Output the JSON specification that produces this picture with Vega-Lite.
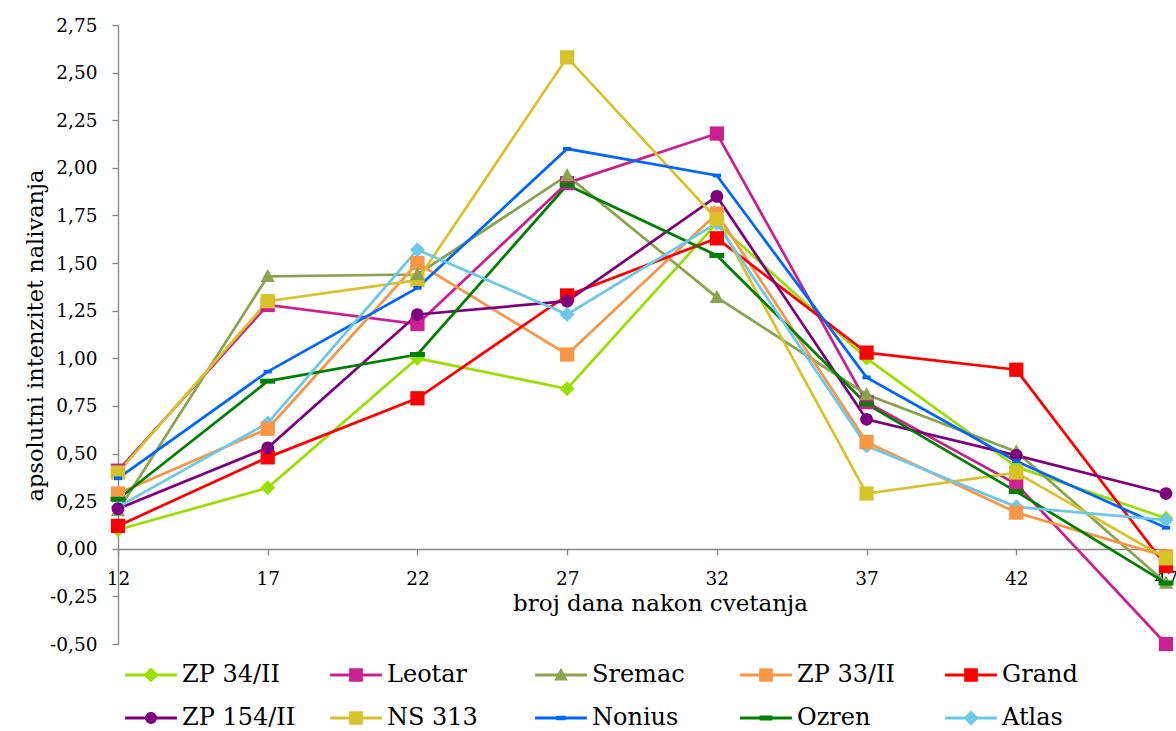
{
  "$schema": "https://vega.github.io/schema/vega-lite/v6.json",
  "autosize": "none",
  "width": 1048,
  "height": 619,
  "padding": {"left": 118, "top": 25, "right": 10, "bottom": 87},
  "background": "white",
  "config": {
    "view": {"stroke": null},
    "font": "DejaVu Serif",
    "axis": {"grid": false, "domainColor": "#868686", "tickColor": "#868686", "domainWidth": 1.3, "tickWidth": 1.3, "labelColor": "#000000", "titleColor": "#000000", "labelFont": "DejaVu Serif", "titleFont": "DejaVu Serif", "titleFontWeight": "normal"}
  },
  "data": {"values": [
    {"series": "ZP 34/II", "day": 12, "value": 0.10}, {"series": "ZP 34/II", "day": 17, "value": 0.32}, {"series": "ZP 34/II", "day": 22, "value": 1.00}, {"series": "ZP 34/II", "day": 27, "value": 0.84}, {"series": "ZP 34/II", "day": 32, "value": 1.71}, {"series": "ZP 34/II", "day": 37, "value": 1.00}, {"series": "ZP 34/II", "day": 42, "value": 0.43}, {"series": "ZP 34/II", "day": 47, "value": 0.16},
    {"series": "Leotar", "day": 12, "value": 0.41}, {"series": "Leotar", "day": 17, "value": 1.28}, {"series": "Leotar", "day": 22, "value": 1.18}, {"series": "Leotar", "day": 27, "value": 1.92}, {"series": "Leotar", "day": 32, "value": 2.18}, {"series": "Leotar", "day": 37, "value": 0.77}, {"series": "Leotar", "day": 42, "value": 0.34}, {"series": "Leotar", "day": 47, "value": -0.50},
    {"series": "Sremac", "day": 12, "value": 0.20}, {"series": "Sremac", "day": 17, "value": 1.43}, {"series": "Sremac", "day": 22, "value": 1.44}, {"series": "Sremac", "day": 27, "value": 1.96}, {"series": "Sremac", "day": 32, "value": 1.32}, {"series": "Sremac", "day": 37, "value": 0.81}, {"series": "Sremac", "day": 42, "value": 0.51}, {"series": "Sremac", "day": 47, "value": -0.18},
    {"series": "ZP 33/II", "day": 12, "value": 0.29}, {"series": "ZP 33/II", "day": 17, "value": 0.63}, {"series": "ZP 33/II", "day": 22, "value": 1.50}, {"series": "ZP 33/II", "day": 27, "value": 1.02}, {"series": "ZP 33/II", "day": 32, "value": 1.76}, {"series": "ZP 33/II", "day": 37, "value": 0.56}, {"series": "ZP 33/II", "day": 42, "value": 0.19}, {"series": "ZP 33/II", "day": 47, "value": -0.04},
    {"series": "Grand", "day": 12, "value": 0.12}, {"series": "Grand", "day": 17, "value": 0.48}, {"series": "Grand", "day": 22, "value": 0.79}, {"series": "Grand", "day": 27, "value": 1.33}, {"series": "Grand", "day": 32, "value": 1.63}, {"series": "Grand", "day": 37, "value": 1.03}, {"series": "Grand", "day": 42, "value": 0.94}, {"series": "Grand", "day": 47, "value": -0.09},
    {"series": "ZP 154/II", "day": 12, "value": 0.21}, {"series": "ZP 154/II", "day": 17, "value": 0.53}, {"series": "ZP 154/II", "day": 22, "value": 1.23}, {"series": "ZP 154/II", "day": 27, "value": 1.30}, {"series": "ZP 154/II", "day": 32, "value": 1.85}, {"series": "ZP 154/II", "day": 37, "value": 0.68}, {"series": "ZP 154/II", "day": 42, "value": 0.49}, {"series": "ZP 154/II", "day": 47, "value": 0.29},
    {"series": "NS 313", "day": 12, "value": 0.40}, {"series": "NS 313", "day": 17, "value": 1.30}, {"series": "NS 313", "day": 22, "value": 1.41}, {"series": "NS 313", "day": 27, "value": 2.58}, {"series": "NS 313", "day": 32, "value": 1.73}, {"series": "NS 313", "day": 37, "value": 0.29}, {"series": "NS 313", "day": 42, "value": 0.40}, {"series": "NS 313", "day": 47, "value": -0.05},
    {"series": "Nonius", "day": 12, "value": 0.37}, {"series": "Nonius", "day": 17, "value": 0.93}, {"series": "Nonius", "day": 22, "value": 1.37}, {"series": "Nonius", "day": 27, "value": 2.10}, {"series": "Nonius", "day": 32, "value": 1.96}, {"series": "Nonius", "day": 37, "value": 0.90}, {"series": "Nonius", "day": 42, "value": 0.46}, {"series": "Nonius", "day": 47, "value": 0.11},
    {"series": "Ozren", "day": 12, "value": 0.26}, {"series": "Ozren", "day": 17, "value": 0.88}, {"series": "Ozren", "day": 22, "value": 1.02}, {"series": "Ozren", "day": 27, "value": 1.91}, {"series": "Ozren", "day": 32, "value": 1.54}, {"series": "Ozren", "day": 37, "value": 0.76}, {"series": "Ozren", "day": 42, "value": 0.30}, {"series": "Ozren", "day": 47, "value": -0.18},
    {"series": "Atlas", "day": 12, "value": 0.22}, {"series": "Atlas", "day": 17, "value": 0.66}, {"series": "Atlas", "day": 22, "value": 1.57}, {"series": "Atlas", "day": 27, "value": 1.23}, {"series": "Atlas", "day": 32, "value": 1.71}, {"series": "Atlas", "day": 37, "value": 0.54}, {"series": "Atlas", "day": 42, "value": 0.22}, {"series": "Atlas", "day": 47, "value": 0.15}
  ]},
  "encoding": {
    "x": {"field": "day", "type": "quantitative",
      "scale": {"domain": [12, 47], "nice": false, "zero": false},
      "axis": {"values": [12, 17, 22, 27, 32, 37, 42, 47], "format": "d", "offset": -95, "tickSize": 6, "labelPadding": 14, "labelDx": -14, "labelFontSize": 18.5, "labelFlush": false, "labelOverlap": false,
        "title": "broj dana nakon cvetanja", "titleFontSize": 23, "titleX": 542, "titleY": 61, "titleBaseline": "alphabetic", "titleAlign": "center", "titleAnchor": null}},
    "y": {"field": "value", "type": "quantitative",
      "scale": {"domain": [-0.5, 2.75], "nice": false, "zero": false},
      "axis": {"values": [-0.5, -0.25, 0, 0.25, 0.5, 0.75, 1, 1.25, 1.5, 1.75, 2, 2.25, 2.5, 2.75], "labelExpr": "replace(replace(format(datum.value, '.2f'), '.', ','), '\u2212', '-')", "tickSize": 6, "labelPadding": 15, "labelFontSize": 18.5, "labelFlush": false, "labelOverlap": false,
        "title": "apsolutni intenzitet nalivanja", "titleFontSize": 22.5, "titleAngle": 270, "titleX": -76, "titleY": 310, "titleBaseline": "alphabetic", "titleAlign": "center"}}
  },
  "layer": [
    {"transform": [{"filter": {"field": "day", "equal": 0}}],
     "mark": {"type": "point", "filled": true, "opacity": 1, "size": 1296, "clip": false},
     "encoding": {
       "color": {"field": "series", "type": "nominal",
         "scale": {"domain": ["ZP 34/II", "Leotar", "Sremac", "ZP 33/II", "Grand", "ZP 154/II", "NS 313", "Nonius", "Ozren", "Atlas"],
           "range": ["#99E000", "#CC2090", "#8BA34E", "#F79646", "#FF0000", "#7F007F", "#D8C22A", "#0066FF", "#008000", "#6CC8E8"]},
         "legend": {"orient": "none", "legendX": 15, "legendY": 632, "columns": 5, "direction": "horizontal", "columnPadding": 34, "rowPadding": 13, "gridAlign": "all", "title": null,
           "symbolSize": 1296, "symbolStrokeWidth": 0, "symbolOpacity": 1, "labelFont": "DejaVu Serif", "labelFontSize": 24, "labelColor": "#000000", "labelOffset": 13, "labelLimit": 300}},
       "shape": {"field": "series", "type": "nominal", "legend": null,
         "scale": {"domain": ["ZP 34/II", "Leotar", "Sremac", "ZP 33/II", "Grand", "ZP 154/II", "NS 313", "Nonius", "Ozren", "Atlas"],
           "range": [
             "M-1.44,-0.08H1.44V0.08H-1.44Z M0,-0.42L0.42,0L0,0.42L-0.42,0Z",
             "M-1.44,-0.08H1.44V0.08H-1.44Z M-0.38,-0.38H0.38V0.38H-0.38Z",
             "M-1.44,-0.08H1.44V0.08H-1.44Z M0,-0.4L0.38,0.3H-0.38Z",
             "M-1.44,-0.08H1.44V0.08H-1.44Z M-0.38,-0.38H0.38V0.38H-0.38Z",
             "M-1.44,-0.08H1.44V0.08H-1.44Z M-0.38,-0.38H0.38V0.38H-0.38Z",
             "M-1.44,-0.08H1.44V0.08H-1.44Z M-0.33,0A0.33,0.33 0 1,1 0.33,0A0.33,0.33 0 1,1 -0.33,0Z",
             "M-1.44,-0.08H1.44V0.08H-1.44Z M-0.38,-0.38H0.38V0.38H-0.38Z",
             "M-1.44,-0.08H1.44V0.08H-1.44Z M-0.26,-0.13H0.26V0.13H-0.26Z",
             "M-1.44,-0.08H1.44V0.08H-1.44Z M-0.36,-0.14H0.36V0.14H-0.36Z",
             "M-1.44,-0.08H1.44V0.08H-1.44Z M0,-0.42L0.42,0L0,0.42L-0.42,0Z"]}}
     }},
    {"mark": {"type": "line", "strokeWidth": 2.75, "clip": false},
     "encoding": {"stroke": {"field": "series", "type": "nominal", "legend": null,
       "scale": {"domain": ["ZP 34/II", "Leotar", "Sremac", "ZP 33/II", "Grand", "ZP 154/II", "NS 313", "Nonius", "Ozren", "Atlas"],
         "range": ["#99E000", "#CC2090", "#8BA34E", "#F79646", "#FF0000", "#7F007F", "#D8C22A", "#0066FF", "#008000", "#6CC8E8"]}}}},
    {"transform": [{"filter": {"field": "series", "oneOf": ["ZP 34/II", "Atlas"]}}],
     "mark": {"type": "point", "filled": true, "opacity": 1, "size": 225, "clip": false, "shape": "M0,-1L1,0L0,1L-1,0Z"},
     "encoding": {"fill": {"field": "series", "type": "nominal", "legend": null,
       "scale": {"domain": ["ZP 34/II", "Leotar", "Sremac", "ZP 33/II", "Grand", "ZP 154/II", "NS 313", "Nonius", "Ozren", "Atlas"],
         "range": ["#99E000", "#CC2090", "#8BA34E", "#F79646", "#FF0000", "#7F007F", "#D8C22A", "#0066FF", "#008000", "#6CC8E8"]}}}},
    {"transform": [{"filter": {"field": "series", "oneOf": ["Leotar", "ZP 33/II", "Grand", "NS 313"]}}],
     "mark": {"type": "point", "filled": true, "opacity": 1, "size": 225, "clip": false, "shape": "M-0.95,-0.95H0.95V0.95H-0.95Z"},
     "encoding": {"fill": {"field": "series", "type": "nominal", "legend": null}}},
    {"transform": [{"filter": {"field": "series", "equal": "Sremac"}}],
     "mark": {"type": "point", "filled": true, "opacity": 1, "size": 225, "clip": false, "shape": "M0,-1L0.95,0.75H-0.95Z"},
     "encoding": {"fill": {"field": "series", "type": "nominal", "legend": null}}},
    {"transform": [{"filter": {"field": "series", "equal": "ZP 154/II"}}],
     "mark": {"type": "point", "filled": true, "opacity": 1, "size": 225, "clip": false, "shape": "M-0.85,0A0.85,0.85 0 1,1 0.85,0A0.85,0.85 0 1,1 -0.85,0Z"},
     "encoding": {"fill": {"field": "series", "type": "nominal", "legend": null}}},
    {"transform": [{"filter": {"field": "series", "equal": "Nonius"}}],
     "mark": {"type": "point", "filled": true, "opacity": 1, "size": 225, "clip": false, "shape": "M-0.55,-0.25H0.55V0.25H-0.55Z"},
     "encoding": {"fill": {"field": "series", "type": "nominal", "legend": null}}},
    {"transform": [{"filter": {"field": "series", "equal": "Ozren"}}],
     "mark": {"type": "point", "filled": true, "opacity": 1, "size": 225, "clip": false, "shape": "M-1,-0.33H1V0.33H-1Z"},
     "encoding": {"fill": {"field": "series", "type": "nominal", "legend": null}}}
  ]
}
